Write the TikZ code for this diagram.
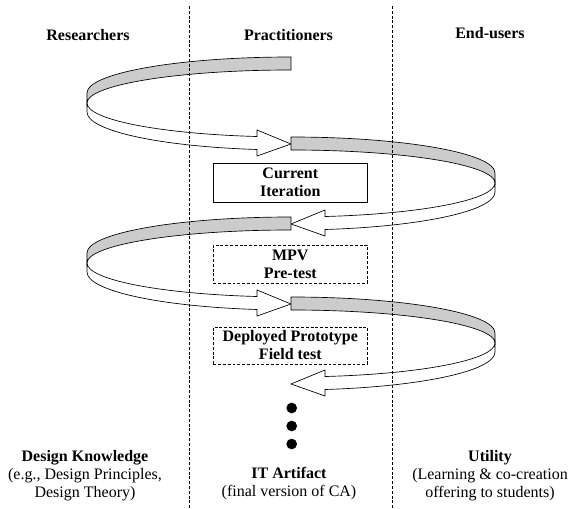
\documentclass[tikz,border=0pt]{standalone}
\usepackage{fontspec}
\setmainfont{Liberation Serif}
\usetikzlibrary{positioning}
\newcommand{\labelfont}{\fontsize{12pt}{13.5pt}\selectfont}
\tikzset{
  band/.style={draw, fill=black!20, line width=0.5pt},
  backarrow/.style={draw, fill=white, line width=0.5pt},
  divider/.style={line width=0.5pt, dash pattern=on 2.2pt off 1.4pt},
  stagebox/.style={draw, line width=0.5pt, minimum width=115.5pt, minimum height=28.5pt,
    inner sep=1pt, align=center, font=\labelfont\bfseries},
  head/.style={font=\labelfont\bfseries},
  foot/.style={font=\labelfont, align=center},
  dot/.style={circle, fill=black, inner sep=0pt, minimum size=8pt}
}
% one half turn of the spiral: #1 = 1 (left) or -1 (right), #2 = height of its centre
\newcommand{\spiralturn}[2]{
  \begin{scope}[shift={(291,#2)}, xscale=#1]
    \path[band] (0,43) arc[start angle=90, end angle=180, x radius=204, y radius=36]
      -- (-204,-3) arc[start angle=180, end angle=90, x radius=204, y radius=33] -- cycle;
    \path[backarrow] (-204,-3) arc[start angle=180, end angle=260.4, x radius=204, y radius=34]
      -- (-34,-30) -- (0,-44) -- (-34,-56) -- (-34,-49.5)
      arc[start angle=260.4, end angle=180, x radius=204, y radius=38] -- cycle;
  \end{scope}
}

\begin{document}
\begin{tikzpicture}[x=0.75pt, y=0.75pt]
  \useasboundingbox (0,0) rectangle (572,508);

  \node[head] (researchers) at (88,473) {Researchers};
  \node[head] (practitioners) at (288.5,473) {Practitioners};
  \node[head] (endusers) at (490,475) {End-users};

  \spiralturn{1}{408}
  \spiralturn{-1}{328}
  \spiralturn{1}{248}
  \spiralturn{-1}{168}

  \node[stagebox, minimum height=29.25pt] (current) at (290.3,325.5) {Current\\Iteration};
  \node[stagebox, divider] (mpv) at (290.3,244) {MPV\\Pre-test};
  \node[stagebox, divider, minimum height=27.75pt] (deployed) at (290.3,162.5) {Deployed Prototype\\Field test};

  \node[dot] (dota) at (291.7,100) {};
  \node[dot, below=5.1pt of dota] (dotb) {};
  \node[dot, below=5.1pt of dotb] (dotc) {};

  \node[foot] (knowledge) at (85,32) {\textbf{Design Knowledge}\\(e.g., Design Principles,\\Design Theory)};
  \node[foot] (artifact) at (289,24.5) {\textbf{IT Artifact}\\(final version of CA)};
  \node[foot] (utility) at (490,32) {\textbf{Utility}\\(Learning \& co-creation\\offering to students)};

  \coordinate (lefttop) at (189,502);
  \coordinate (leftbot) at (189,0);
  \coordinate (righttop) at (392,502);
  \coordinate (rightbot) at (392,0);
  \draw[divider] (lefttop) -- (leftbot);
  \draw[divider] (righttop) -- (rightbot);
\end{tikzpicture}
\end{document}
